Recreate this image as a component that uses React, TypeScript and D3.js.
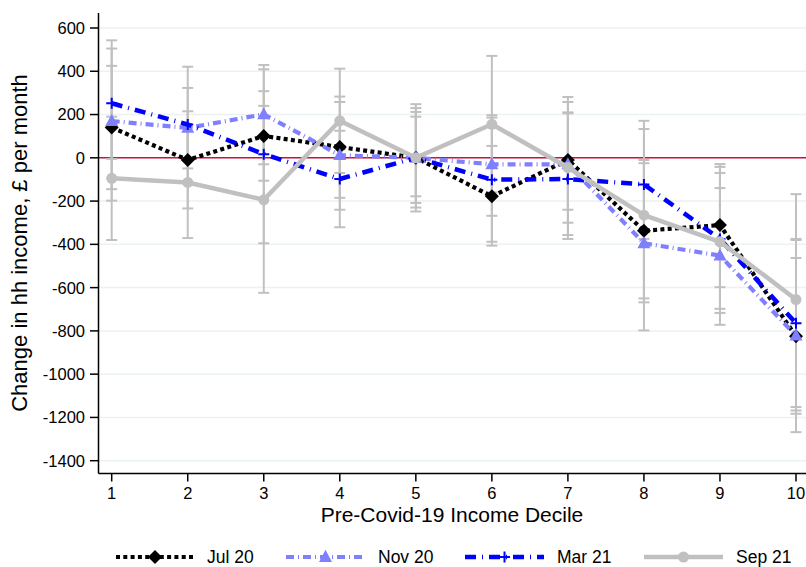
import React from "react";
import * as d3 from "d3";

const deciles = [1, 2, 3, 4, 5, 6, 7, 8, 9, 10];
const yTicks = [600, 400, 200, 0, -200, -400, -600, -800, -1000, -1200, -1400];

const jul20 = [140, -10, 101, 50, 0, -178, -10, -337, -311, -825];
const jul20Lo = [-145, -234, -106, -185, -209, -406, -357, -668, -598, -1183];
const jul20Hi = [425, 215, 308, 283, 212, 55, 281, -25, -29, -463];

const nov20 = [170, 138, 201, 12, 0, -30, -30, -395, -452, -822];
const nov20Lo = [-198, -49, -30, -240, -178, -268, -375, -798, -772, -1268];
const nov20Hi = [543, 323, 429, 258, 190, 197, 258, -10, -140, -375];

const mar21 = [252, 154, 17, -98, 0, -101, -98, -123, -375, -765];
const mar21Lo = [-5, -110, -395, -321, -248, -388, -240, -375, -717, -1168];
const mar21Hi = [505, 421, 409, 125, 248, 186, 206, 133, -42, -380];

const sep21 = [-95, -114, -194, 171, 0, 155, -45, -265, -388, -655];
const sep21Lo = [-380, -371, -624, -70, -230, -160, -300, -650, -698, -1152];
const sep21Hi = [190, 143, 240, 412, 230, 471, 210, 171, -70, -168];

const seriesNames = ["Jul 20", "Nov 20", "Mar 21", "Sep 21"];

const W = 806;
const H = 567;
const FONT = "'Liberation Sans', Arial, sans-serif";

const x = d3.scaleLinear().domain([1, 10]).range([111.7, 796]);
const y = d3.scaleLinear().domain([-1400, 600]).range([460.7, 28]);

const axisX = 98.5;
const axisY = 473.5;
const plotTop = 13;

type Series = {
  name: string;
  vals: number[];
  lo: number[];
  hi: number[];
  color: string;
  width: number;
  dash: string;
  marker: "diamond" | "triangle" | "plus" | "circle";
};

const series: Series[] = [
  { name: seriesNames[0], vals: jul20, lo: jul20Lo, hi: jul20Hi, color: "#000000", width: 4.2, dash: "4,3.3", marker: "diamond" },
  { name: seriesNames[1], vals: nov20, lo: nov20Lo, hi: nov20Hi, color: "#8080ff", width: 4.2, dash: "8,4,1,4", marker: "triangle" },
  { name: seriesNames[2], vals: mar21, lo: mar21Lo, hi: mar21Hi, color: "#0000ff", width: 4.5, dash: "11,6,1,6", marker: "plus" },
  { name: seriesNames[3], vals: sep21, lo: sep21Lo, hi: sep21Hi, color: "#c0c0c0", width: 4.5, dash: "", marker: "circle" },
];

function Marker({ kind, cx, cy, color }: { kind: string; cx: number; cy: number; color: string }) {
  if (kind === "diamond") {
    const r = 7;
    return <path d={`M${cx},${cy - r}L${cx + r},${cy}L${cx},${cy + r}L${cx - r},${cy}Z`} fill={color} />;
  }
  if (kind === "triangle") {
    const s = 6.5;
    return <path d={`M${cx},${cy - s * 1.1}L${cx + s},${cy + s * 0.75}L${cx - s},${cy + s * 0.75}Z`} fill={color} />;
  }
  if (kind === "plus") {
    const s = 5.5;
    return (
      <path d={`M${cx - s},${cy}L${cx + s},${cy}M${cx},${cy - s}L${cx},${cy + s}`} stroke={color} strokeWidth={2} fill="none" />
    );
  }
  return <circle cx={cx} cy={cy} r={5.5} fill={color} />;
}

export default function App() {
  const line = d3
    .line<number>()
    .x((_, i) => x(deciles[i]))
    .y((d) => y(d));

  const legendItems = [
    { s: series[0], x0: 116, x1: 194, tx: 207 },
    { s: series[1], x0: 286, x1: 365, tx: 378 },
    { s: series[2], x0: 465, x1: 544, tx: 557 },
    { s: series[3], x0: 644, x1: 723, tx: 736 },
  ];
  const legY = 557;

  return (
    <svg
      width={W}
      height={H}
      viewBox={`0 0 ${W} ${H}`}
      style={{ position: "absolute", left: 0, top: 0, background: "#ffffff" }}
      fontFamily={FONT}
    >
      <rect x={0} y={0} width={W} height={H} fill="#ffffff" />
      {yTicks.map((t) => (
        <line key={`g${t}`} x1={axisX} x2={W} y1={y(t)} y2={y(t)} stroke="#eaf2f3" strokeWidth={1.5} />
      ))}
      <line x1={axisX} x2={W} y1={y(0)} y2={y(0)} stroke="#d0103a" strokeWidth={1.5} />

      {series.map((s) =>
        deciles.map((dv, i) => {
          const cx = x(dv);
          const y1 = y(s.lo[i]);
          const y2 = y(s.hi[i]);
          return (
            <g key={`eb-${s.name}-${dv}`} stroke="#c0c0c0" strokeWidth={2}>
              <line x1={cx} x2={cx} y1={y1} y2={y2} />
              <line x1={cx - 5.5} x2={cx + 5.5} y1={y1} y2={y1} />
              <line x1={cx - 5.5} x2={cx + 5.5} y1={y2} y2={y2} />
            </g>
          );
        })
      )}

      {series.map((s) => (
        <g key={`ln-${s.name}`}>
          <path
            d={line(s.vals) || ""}
            fill="none"
            stroke={s.color}
            strokeWidth={s.width}
            strokeDasharray={s.dash || undefined}
            strokeLinejoin="round"
            strokeLinecap={s.dash ? "butt" : "round"}
          />
          {s.vals.map((v, i) => (
            <Marker key={i} kind={s.marker} cx={x(deciles[i])} cy={y(v)} color={s.color} />
          ))}
        </g>
      ))}

      <line x1={axisX} x2={axisX} y1={plotTop} y2={axisY} stroke="#000" strokeWidth={1.5} />
      <line x1={axisX} x2={W} y1={axisY} y2={axisY} stroke="#000" strokeWidth={1.5} />
      {yTicks.map((t) => (
        <g key={`yt${t}`}>
          <line x1={axisX - 8.5} x2={axisX} y1={y(t)} y2={y(t)} stroke="#000" strokeWidth={1.5} />
          <text x={85} y={y(t)} dy="0.36em" textAnchor="end" fontSize={16.5} fill="#000">
            {t}
          </text>
        </g>
      ))}
      {deciles.map((dv) => (
        <g key={`xt${dv}`}>
          <line x1={x(dv)} x2={x(dv)} y1={axisY} y2={axisY + 8} stroke="#000" strokeWidth={1.5} />
          <text x={x(dv)} y={499} textAnchor="middle" fontSize={16.5} fill="#000">
            {dv}
          </text>
        </g>
      ))}

      <text x={452} y={522} textAnchor="middle" fontSize={21} fill="#000">
        Pre-Covid-19 Income Decile
      </text>
      <text transform={`translate(27,243) rotate(-90)`} textAnchor="middle" fontSize={22} fill="#000">
        Change in hh income, £ per month
      </text>

      {legendItems.map(({ s, x0, x1, tx }) => (
        <g key={`leg-${s.name}`}>
          <line
            x1={x0}
            x2={x1}
            y1={legY}
            y2={legY}
            stroke={s.color}
            strokeWidth={s.width}
            strokeDasharray={s.dash || undefined}
            strokeLinecap="butt"
          />
          <Marker kind={s.marker} cx={(x0 + x1) / 2} cy={legY} color={s.color} />
          <text x={tx} y={legY} dy="0.36em" fontSize={17.5} fill="#000">
            {s.name}
          </text>
        </g>
      ))}
    </svg>
  );
}
